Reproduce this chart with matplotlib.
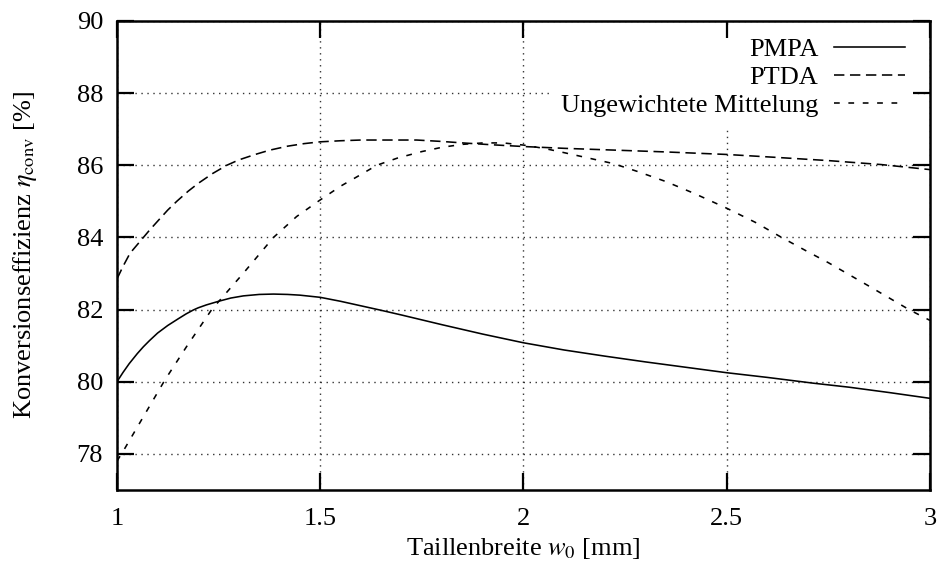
#!/usr/bin/env python3

import matplotlib
matplotlib.use("Agg")
import matplotlib.pyplot as plt

# Conversion efficiency over beam waist, three weighting methods
pmpa_w0 = [1.0, 1.015, 1.03, 1.05, 1.065, 1.08, 1.1, 1.125, 1.15, 1.17, 1.188,
           1.2, 1.22, 1.25, 1.28, 1.311, 1.35, 1.385, 1.42, 1.45, 1.5, 1.55,
           1.598, 1.65, 1.7, 1.8, 1.9, 2.0, 2.1, 2.2, 2.3, 2.4, 2.5, 2.6,
           2.713, 2.8, 2.9, 3.0]
pmpa_eta = [80.0, 80.26, 80.5, 80.78, 80.97, 81.14, 81.35, 81.56, 81.74,
            81.88, 81.99, 82.05, 82.13, 82.23, 82.32, 82.38, 82.42, 82.43,
            82.42, 82.4, 82.34, 82.23, 82.11, 81.98, 81.85, 81.58, 81.32,
            81.08, 80.88, 80.71, 80.55, 80.4, 80.25, 80.12, 79.96, 79.85,
            79.7, 79.54]

ptda_w0 = [1.0, 1.015, 1.032, 1.05, 1.065, 1.08, 1.1, 1.125, 1.147, 1.175,
           1.2, 1.235, 1.27, 1.3, 1.34, 1.376, 1.42, 1.46, 1.5, 1.55, 1.6,
           1.737, 1.8, 1.85, 1.92, 2.0, 2.1, 2.2, 2.35, 2.5, 2.62, 2.75,
           2.88, 3.0]
ptda_eta = [82.85, 83.2, 83.56, 83.8, 84.0, 84.2, 84.45, 84.76, 85.0, 85.28,
            85.5, 85.77, 86.0, 86.15, 86.3, 86.42, 86.53, 86.6, 86.65, 86.68,
            86.7, 86.7, 86.66, 86.62, 86.57, 86.52, 86.47, 86.43, 86.37,
            86.3, 86.22, 86.13, 86.02, 85.88]

mean_w0 = [1.0, 1.0155, 1.118, 1.171, 1.233, 1.311, 1.385, 1.442, 1.5, 1.55,
           1.598, 1.639, 1.69, 1.75, 1.8, 1.85, 1.9, 1.95, 2.0, 2.05, 2.1,
           2.16, 2.22, 2.28, 2.35, 2.42, 2.5, 2.57, 2.635, 2.7, 2.75, 2.85,
           2.95, 3.0]
mean_eta = [77.8, 78.08, 80.05, 80.97, 82.0, 83.01, 84.0, 84.58, 85.04,
            85.42, 85.73, 86.0, 86.2, 86.38, 86.5, 86.58, 86.62, 86.62,
            86.56, 86.47, 86.35, 86.2, 86.05, 85.83, 85.55, 85.22, 84.81,
            84.42, 84.0, 83.6, 83.3, 82.65, 81.99, 81.7]

labels = ["PMPA", "PTDA", "Ungewichtete Mittelung"]
xticks = [1, 1.5, 2, 2.5, 3]
xticklabels = ["1", "1.5", "2", "2.5", "3"]
yticks = [78, 80, 82, 84, 86, 88, 90]

plt.rcParams["font.family"] = ["Liberation Serif", "DejaVu Serif"]
plt.rcParams["mathtext.fontset"] = "stix"
plt.rcParams["font.size"] = 19

fig = plt.figure(figsize=(9.41, 5.70), dpi=100)
pos = [0.1243, 0.1404, 0.8640, 0.8228]
ax = fig.add_axes(pos)

ax.plot(pmpa_w0, pmpa_eta, color="black", lw=1.15, label=labels[0])
ax.plot(ptda_w0, ptda_eta, color="black", lw=1.15,
        linestyle=(0, (6.5, 3.5)), label=labels[1])
ax.plot(mean_w0, mean_eta, color="black", lw=1.15,
        linestyle=(0, (3.6, 5.4)), label=labels[2])

ax.set_xlim(1, 3)
ax.set_ylim(77, 90)
ax.set_xticks(xticks)
ax.set_xticklabels(xticklabels)
ax.set_yticks(yticks)

ax.grid(True, color="0.2", linestyle=(0, (1, 3.3)), linewidth=1.0)
ax.set_axisbelow(True)
ax.tick_params(direction="in", length=0, labelsize=19)
ax.tick_params(axis="x", pad=13)
ax.tick_params(axis="y", pad=10)
for sp in ax.spines.values():
    sp.set_visible(False)

ax.set_xlabel(r"Taillenbreite $w_0$ [mm]", labelpad=4)
ax.set_ylabel(r"Konversionseffizienz $\eta_{\mathrm{conv}}$ [%]",
              labelpad=27)

# key sits on an opaque patch that hides the grid behind it
ax.legend(loc="upper right", bbox_to_anchor=(1.0 - 14 / 813, 1.0 - 6 / 469),
          borderaxespad=0.0, markerfirst=False, handlelength=2.7,
          handletextpad=0.6, labelspacing=0.18, borderpad=0.4,
          fancybox=False, framealpha=1.0, facecolor="white",
          edgecolor="none")

# border and ticks drawn on top of the key
frame = fig.add_axes(pos, sharex=ax, sharey=ax)
frame.patch.set_visible(False)
frame.tick_params(direction="in", length=12, width=1.6, top=True,
                  right=True, labelbottom=False, labelleft=False)
for sp in frame.spines.values():
    sp.set_linewidth(1.8)

fig.savefig("out.png", dpi=100)
